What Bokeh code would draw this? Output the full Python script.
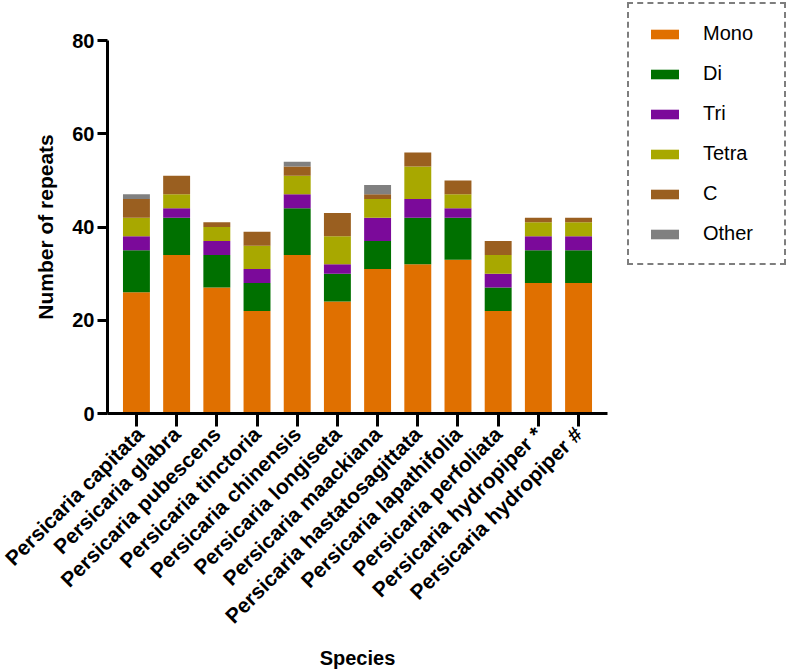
import numpy as np
from bokeh.plotting import figure
from bokeh.layouts import row
from bokeh.models import (FactorRange, Range1d, FixedTicker, Legend, LegendItem)
from bokeh.embed import file_html
from bokeh.resources import INLINE

# SSR counts per species, split by repeat type
species = [
    "Persicaria capitata",
    "Persicaria glabra",
    "Persicaria pubescens",
    "Persicaria tinctoria",
    "Persicaria chinensis",
    "Persicaria longiseta",
    "Persicaria maackiana",
    "Persicaria hastatosagittata",
    "Persicaria lapathifolia",
    "Persicaria perfoliata",
    "Persicaria hydropiper *",
    "Persicaria hydropiper #",
]
mono = [26, 34, 27, 22, 34, 24, 31, 32, 33, 22, 28, 28]
di = [9, 8, 7, 6, 10, 6, 6, 10, 9, 5, 7, 7]
tri = [3, 2, 3, 3, 3, 2, 5, 4, 2, 3, 3, 3]
tetra = [4, 3, 3, 5, 4, 6, 4, 7, 3, 4, 3, 3]
compound = [4, 4, 1, 3, 2, 5, 1, 3, 3, 3, 1, 1]
other = [1, 0, 0, 0, 1, 0, 2, 0, 0, 0, 0, 0]

series = ["Mono", "Di", "Tri", "Tetra", "C", "Other"]
colors = ["#E07000", "#007000", "#7B0A9A", "#A8A800", "#9A5F20", "#808080"]
y_ticks = [0, 20, 40, 60, 80]

data = dict(species=species, Mono=mono, Di=di, Tri=tri, Tetra=tetra,
            C=compound, Other=other)

FONT = "Liberation Sans"

# --- stacked bar chart ---
p = figure(
    width=625, height=671,
    x_range=FactorRange(factors=species, range_padding=0.22,
                        range_padding_units="absolute"),
    y_range=Range1d(0, 80),
    output_backend="svg", toolbar_location=None,
    min_border_left=107, min_border_right=18,
    min_border_top=40, min_border_bottom=258,
)

p.vbar_stack(series, x="species", width=0.67, source=data,
             color=colors, line_color=None)

p.grid.visible = False
p.outline_line_color = None

for ax in (p.xaxis[0], p.yaxis[0]):
    ax.axis_line_width = 3
    ax.axis_line_color = "black"
    ax.major_tick_line_width = 3
    ax.major_tick_line_color = "black"
    ax.major_tick_in = 0
    ax.minor_tick_line_color = None
    ax.major_label_text_font = FONT
    ax.major_label_text_font_style = "bold"
    ax.major_label_text_color = "black"
    ax.axis_label_text_font = FONT
    ax.axis_label_text_font_style = "bold"
    ax.axis_label_text_color = "black"

p.yaxis.ticker = FixedTicker(ticks=y_ticks)
p.yaxis.major_tick_out = 10
p.yaxis.major_label_standoff = 3
p.yaxis.major_label_text_font_size = "20px"
p.yaxis.axis_label = "Number of repeats"
p.yaxis.axis_label_text_font_size = "21px"
p.yaxis.axis_label_standoff = 12

p.xaxis.major_tick_out = 13
p.xaxis.major_label_standoff = 4
p.xaxis.major_label_orientation = np.pi / 4
p.xaxis.major_label_text_font_size = "21px"
p.xaxis.axis_label = "Species"
p.xaxis.axis_label_text_font_size = "20px"
p.xaxis.axis_label_standoff = 8

# --- legend panel ---
lg = figure(
    width=162, height=671, x_axis_type=None, y_axis_type=None,
    x_range=Range1d(0, 1), y_range=Range1d(0, 1),
    output_backend="svg", toolbar_location=None,
    min_border=0, frame_align=False,
    background_fill_color="white", border_fill_color="white",
)
lg.grid.visible = False
lg.outline_line_color = None
# zero-height swatch renderers placed off-range; only their legend glyphs show
swatches = [lg.vbar(x=[5], top=[5], bottom=[5], width=0.1, color=c,
                    line_color=None)
            for c in colors]

legend = Legend(
    items=[LegendItem(label=s, renderers=[r]) for s, r in zip(series, swatches)],
    location="top_left",
    orientation="vertical",
    glyph_width=35, glyph_height=12,
    label_standoff=21, label_width=63, label_height=23,
    spacing=17, padding=18, margin=2,
    label_text_font=FONT, label_text_font_size="20px", label_text_color="black",
    border_line_color="black", border_line_width=2, border_line_dash="5 3",
    background_fill_color="white", background_fill_alpha=1.0,
)
lg.add_layout(legend, "center")

open("out.html", "w").write(file_html(row(p, lg), INLINE))
